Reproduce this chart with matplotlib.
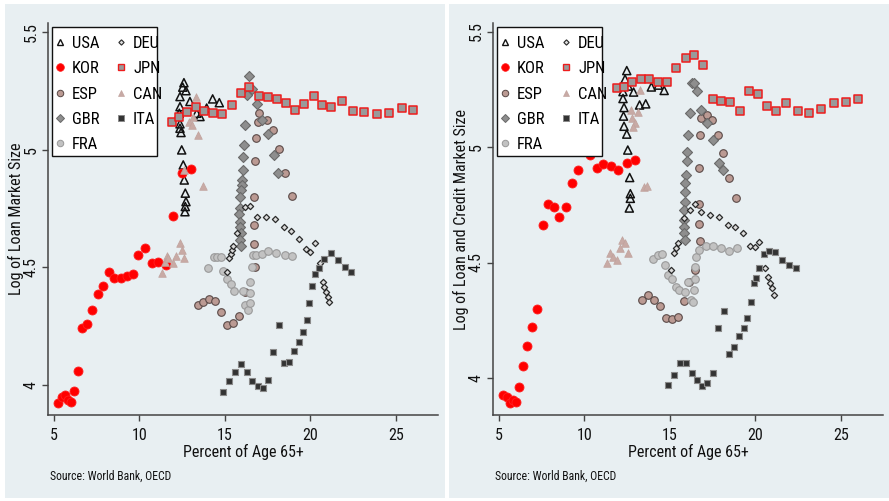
import matplotlib
matplotlib.use("Agg")
import matplotlib.pyplot as plt
from matplotlib import font_manager
from matplotlib.patches import Rectangle
from matplotlib.lines import Line2D

# ---- data: share of population aged 65+ (x) vs. log market size (y) ----
JPN_AGE = [11.88, 12.31, 12.80, 13.29, 13.77, 14.32, 14.84, 15.39, 15.92, 16.42, 16.97, 17.50, 18.02,
           18.55, 19.09, 19.64, 20.19, 20.67, 21.20, 21.82, 22.50, 23.15, 23.87, 24.61, 25.33, 26.01]
JPN_LOAN = [5.120, 5.139, 5.163, 5.182, 5.166, 5.159, 5.152, 5.190, 5.244, 5.267, 5.231, 5.223, 5.216,
            5.201, 5.170, 5.196, 5.231, 5.190, 5.182, 5.209, 5.165, 5.162, 5.152, 5.157, 5.180, 5.171]
JPN_CREDIT = [5.257, 5.258, 5.283, 5.293, 5.293, 5.283, 5.283, 5.343, 5.384, 5.398, 5.355, 5.209, 5.199,
              5.195, 5.156, 5.244, 5.228, 5.177, 5.156, 5.192, 5.156, 5.148, 5.166, 5.192, 5.195, 5.209]

KOR_AGE = [5.25, 5.45, 5.64, 5.84, 5.99, 6.17, 6.42, 6.65, 6.93, 7.22, 7.56, 7.88, 8.22,
           8.53, 8.90, 9.25, 9.60, 9.93, 10.32, 10.71, 11.10, 11.55, 11.98, 12.49, 12.99]
KOR_LOAN = [3.922, 3.950, 3.957, 3.936, 3.929, 3.974, 4.061, 4.241, 4.258, 4.319, 4.387, 4.421, 4.480,
            4.457, 4.454, 4.465, 4.471, 4.553, 4.582, 4.518, 4.522, 4.511, 4.719, 4.903, 4.918]
KOR_CREDIT = [3.926, 3.919, 3.890, 3.905, 3.897, 3.962, 4.052, 4.140, 4.222, 4.297, 4.662, 4.753, 4.742,
              4.696, 4.740, 4.846, 4.900, 5.009, 4.965, 4.909, 4.928, 4.916, 4.902, 4.929, 4.944]

ITA_AGE = [14.87, 15.25, 15.58, 15.92, 16.27, 16.60, 16.91, 17.20, 17.51, 17.82, 18.17, 18.45, 18.73,
           19.05, 19.33, 19.54, 19.77, 19.92, 20.07, 20.25, 20.50, 20.81, 21.18, 21.59, 22.00, 22.36]
ITA_LOAN = [3.968, 4.018, 4.056, 4.089, 4.056, 4.017, 3.996, 3.989, 4.021, 4.142, 4.254, 4.094, 4.099,
            4.145, 4.184, 4.227, 4.277, 4.349, 4.421, 4.471, 4.497, 4.537, 4.562, 4.533, 4.503, 4.481]
ITA_CREDIT = [3.970, 4.013, 4.064, 4.065, 4.020, 3.991, 3.964, 3.977, 4.020, 4.218, 4.290, 4.104, 4.133,
              4.182, 4.218, 4.262, 4.330, 4.410, 4.432, 4.475, 4.537, 4.550, 4.545, 4.511, 4.489, 4.475]

USA_AGE_L = [12.66, 12.68, 12.72, 12.68, 12.62, 12.56, 12.47, 12.43, 12.37, 12.37, 12.33, 12.37, 12.37,
             12.53, 12.60, 12.72, 12.95, 13.35, 13.54, 13.93, 14.28, 14.67]
USA_LOAN = [4.737, 4.759, 4.780, 4.816, 4.872, 4.936, 5.000, 5.074, 5.092, 5.111, 5.156, 5.184, 5.227,
            5.267, 5.286, 5.252, 5.206, 5.156, 5.142, 5.178, 5.217, 5.201]
USA_AGE_C = [12.48, 12.38, 12.56, 12.26, 12.88, 12.26, 12.32, 12.29, 12.32, 12.48, 12.54, 12.65, 12.69,
             12.69, 12.63, 13.23, 13.59, 13.92, 14.33, 14.67]
USA_CREDIT = [5.331, 5.294, 5.264, 5.240, 5.238, 5.210, 5.171, 5.134, 5.090, 5.056, 4.987, 4.868, 4.798,
              4.778, 4.736, 5.182, 5.187, 5.260, 5.268, 5.245]

ESP_AGE_L = [13.44, 13.73, 14.06, 14.42, 14.77, 15.13, 15.45, 15.84, 16.17, 16.75, 16.71, 16.71, 16.71,
             16.75, 16.81, 16.95, 17.01, 17.44, 17.82, 18.18, 18.51, 18.90]
ESP_LOAN = [4.340, 4.352, 4.366, 4.359, 4.309, 4.255, 4.263, 4.294, 4.396, 4.503, 4.600, 4.681, 4.800,
            4.951, 5.050, 5.120, 5.159, 5.129, 5.086, 5.003, 4.900, 4.804]
ESP_AGE_C = [13.38, 13.71, 14.06, 14.40, 14.75, 15.12, 15.46, 15.81, 16.13, 16.48, 16.75, 16.72, 16.68,
             16.70, 16.75, 16.80, 17.17, 17.46, 17.81, 18.14, 18.49, 18.88]
ESP_CREDIT = [4.338, 4.359, 4.336, 4.310, 4.262, 4.254, 4.263, 4.332, 4.417, 4.468, 4.595, 4.667, 4.753,
              4.908, 5.050, 5.124, 5.139, 5.116, 5.054, 4.975, 4.865, 4.781]

GBR_AGE_L = [16.39, 16.56, 16.30, 16.87, 17.18, 16.19, 17.53, 16.11, 17.88, 16.07, 16.04, 18.12, 15.98,
             15.98, 15.94, 15.88, 15.88, 15.84, 15.88, 15.89, 15.92, 15.88, 15.94]
GBR_LOAN = [5.315, 5.258, 5.234, 5.194, 5.128, 5.105, 5.067, 5.021, 4.979, 4.969, 4.915, 4.903, 4.872,
            4.851, 4.830, 4.800, 4.753, 4.728, 4.694, 4.672, 4.647, 4.617, 4.591]
GBR_AGE_C = [16.28, 16.42, 16.58, 16.16, 16.85, 17.17, 16.09, 17.54, 16.01, 17.86, 16.01, 18.09, 15.97,
             15.91, 15.90, 15.88, 15.86, 15.81, 15.84, 15.84, 15.90]
GBR_CREDIT = [5.279, 5.277, 5.242, 5.147, 5.161, 5.106, 5.051, 5.030, 4.980, 4.931, 4.939, 4.900, 4.879,
              4.843, 4.807, 4.763, 4.727, 4.684, 4.655, 4.626, 4.597]

FRA_AGE_L = [14.02, 14.33, 14.56, 14.77, 14.90, 15.10, 15.33, 15.54, 16.05, 16.20, 16.37, 16.46, 16.49,
             16.48, 16.56, 16.65, 16.84, 17.15, 17.53, 18.00, 18.51, 18.93]
FRA_LOAN = [4.497, 4.543, 4.546, 4.543, 4.484, 4.451, 4.429, 4.399, 4.400, 4.338, 4.319, 4.348, 4.390,
            4.440, 4.503, 4.553, 4.553, 4.557, 4.568, 4.563, 4.553, 4.550]
FRA_AGE_C = [14.04, 14.33, 14.55, 14.72, 14.89, 15.12, 15.34, 15.56, 15.88, 16.07, 16.22, 16.37, 16.44,
             16.48, 16.48, 16.54, 16.72, 17.11, 17.54, 18.01, 18.49, 18.92]
FRA_CREDIT = [4.514, 4.532, 4.536, 4.491, 4.446, 4.429, 4.395, 4.381, 4.374, 4.415, 4.338, 4.329, 4.381,
              4.429, 4.481, 4.525, 4.554, 4.571, 4.571, 4.565, 4.550, 4.564]

DEU_AGE_L = [15.13, 15.25, 15.33, 15.39, 15.45, 15.68, 16.17, 16.46, 16.89, 17.40, 17.92, 18.43, 18.86,
             19.31, 19.74, 20.00, 20.26, 20.56, 20.71, 20.81, 20.91, 21.01, 21.10]
DEU_LOAN = [4.480, 4.539, 4.557, 4.574, 4.591, 4.646, 4.756, 4.762, 4.715, 4.713, 4.704, 4.672, 4.655,
            4.619, 4.577, 4.565, 4.602, 4.518, 4.440, 4.418, 4.397, 4.376, 4.354]
DEU_AGE_C = [15.08, 15.22, 15.34, 15.46, 15.84, 16.19, 16.45, 16.85, 17.37, 17.90, 18.40, 18.83, 19.31,
             19.70, 20.00, 20.25, 20.58, 20.73, 20.88, 20.98, 21.11]
DEU_CREDIT = [4.468, 4.543, 4.563, 4.583, 4.693, 4.727, 4.753, 4.719, 4.707, 4.697, 4.664, 4.652, 4.626,
              4.572, 4.569, 4.589, 4.478, 4.439, 4.413, 4.388, 4.361]

CAN_AGE_L = [13.30, 13.15, 12.91, 13.05, 13.44, 13.70, 12.60, 12.37, 12.47, 11.59, 12.13, 12.60, 11.49,
             11.98, 11.30, 11.67]
CAN_LOAN = [5.224, 5.142, 5.120, 5.106, 5.064, 4.847, 4.915, 4.603, 4.574, 4.549, 4.549, 4.539, 4.525,
            4.518, 4.478, 4.540]
CAN_AGE_C = [13.26, 12.72, 13.13, 12.77, 12.98, 12.87, 13.49, 13.65, 12.19, 12.38, 12.09, 12.57, 11.50,
             11.66, 11.90, 11.31]
CAN_CREDIT = [5.247, 5.160, 5.153, 5.124, 5.104, 5.088, 4.828, 4.830, 4.597, 4.583, 4.561, 4.540, 4.540,
              4.523, 4.511, 4.497]

COUNTRIES = ["USA", "KOR", "ESP", "GBR", "FRA", "DEU", "JPN", "CAN", "ITA"]
X_TICKS = [5, 10, 15, 20, 25]
Y_TICKS = [4, 4.5, 5, 5.5]
Y_TICK_LABELS = ["4", "4.5", "5", "5.5"]

LOAN_SERIES = {
    "USA": (USA_AGE_L, USA_LOAN), "KOR": (KOR_AGE, KOR_LOAN), "ESP": (ESP_AGE_L, ESP_LOAN),
    "GBR": (GBR_AGE_L, GBR_LOAN), "FRA": (FRA_AGE_L, FRA_LOAN), "DEU": (DEU_AGE_L, DEU_LOAN),
    "JPN": (JPN_AGE, JPN_LOAN), "CAN": (CAN_AGE_L, CAN_LOAN), "ITA": (ITA_AGE, ITA_LOAN),
}
CREDIT_SERIES = {
    "USA": (USA_AGE_C, USA_CREDIT), "KOR": (KOR_AGE, KOR_CREDIT), "ESP": (ESP_AGE_C, ESP_CREDIT),
    "GBR": (GBR_AGE_C, GBR_CREDIT), "FRA": (FRA_AGE_C, FRA_CREDIT), "DEU": (DEU_AGE_C, DEU_CREDIT),
    "JPN": (JPN_AGE, JPN_CREDIT), "CAN": (CAN_AGE_C, CAN_CREDIT), "ITA": (ITA_AGE, ITA_CREDIT),
}

# ---- marker styles ----
STYLE = {
    "USA": dict(marker="^", s=34, facecolor="none", edgecolor="#111111", linewidth=1.1),
    "KOR": dict(marker="o", s=42, facecolor="#ff0000", edgecolor="#ff2020", linewidth=0.6),
    "ESP": dict(marker="o", s=30, facecolor="#bb9a93", edgecolor="#5a4a48", linewidth=0.8),
    "GBR": dict(marker="D", s=26, facecolor="#8e8e8e", edgecolor="#6a6a6a", linewidth=0.8),
    "FRA": dict(marker="o", s=30, facecolor="#c2c2c2", edgecolor="#9a9a9a", linewidth=0.8),
    "DEU": dict(marker="D", s=10, facecolor="#dcdcdc", edgecolor="#2a2a2a", linewidth=0.9),
    "JPN": dict(marker="s", s=30, facecolor="#9a9a9a", edgecolor="#ee1c1c", linewidth=1.1),
    "CAN": dict(marker="^", s=30, facecolor="#c8aaa5", edgecolor="#c0a29d", linewidth=0.5),
    "ITA": dict(marker="s", s=24, facecolor="#333333", edgecolor="#8a8a8a", linewidth=0.8),
}

available = {f.name for f in font_manager.fontManager.ttflist}
FONT = next((f for f in ["Roboto Condensed", "Archivo Narrow", "PT Sans Narrow", "Liberation Sans"]
             if f in available), "DejaVu Sans")
plt.rcParams["font.family"] = [FONT, "DejaVu Sans"]

W, H = 889, 501
fig = plt.figure(figsize=(W / 100, H / 100), dpi=100)
fig.patch.set_facecolor("white")

BG = "#e8eff2"
AX_COLOR = "#444444"
TXT = "#111111"


def px_rect(x0, y0, x1, y1):
    return [x0 / W, 1 - y1 / H, (x1 - x0) / W, (y1 - y0) / H]


# panel backgrounds, drawn beneath the axes
for x0, x1 in [(5, 445), (449, 889)]:
    r = Rectangle((x0 / W, 1 - 498 / H), (x1 - x0) / W, (498 - 4) / H,
                  transform=fig.transFigure, facecolor=BG, edgecolor="none", zorder=-10)
    fig.patches.append(r)

panels = [
    dict(rect=px_rect(48, 23, 438, 415), data=LOAN_SERIES, ylim=(3.872, 5.540),
         xlim=(4.65, 27.46), ylabel="Log of Loan Market Size", dx=0),
    dict(rect=px_rect(493, 23, 883, 415), data=CREDIT_SERIES, ylim=(3.840, 5.537),
         xlim=(4.65, 27.48), ylabel="Log of Loan and Credit Market Size", dx=445),
]

for p in panels:
    dx = p["dx"]
    ax = fig.add_axes(p["rect"])
    ax.set_zorder(1)
    ax.set_facecolor("none")
    for c in COUNTRIES:
        xs, ys = p["data"][c]
        ax.scatter(xs, ys, label=c, zorder=3, **STYLE[c])
    ax.set_xlim(*p["xlim"])
    ax.set_ylim(*p["ylim"])
    ax.set_xticks(X_TICKS)
    ax.set_yticks(Y_TICKS)
    ax.set_yticklabels(Y_TICK_LABELS)
    for s in ["top", "right"]:
        ax.spines[s].set_visible(False)
    for s in ["left", "bottom"]:
        ax.spines[s].set_color(AX_COLOR)
        ax.spines[s].set_linewidth(1.1)
    ax.tick_params(axis="both", direction="out", length=4, width=1.0, color=AX_COLOR,
                   labelsize=11.5, labelcolor=TXT)
    ax.tick_params(axis="x", pad=5)
    ax.tick_params(axis="y", labelrotation=90, pad=2.5)
    for lab in ax.get_yticklabels():
        lab.set_va("center")
    ax.set_ylabel(p["ylabel"], fontsize=11.5, color=TXT)
    ax.yaxis.set_label_coords(-0.062, 0.5)
    ax.set_xlabel("Percent of Age 65+", fontsize=11.5, color=TXT)
    ax.xaxis.set_label_coords(0.5, -0.094)
    ax.xaxis.label.set_va("center")

    # legend box
    frame = Rectangle(((52 + dx) / W, 1 - 156 / H), 105 / W, (156 - 27) / H,
                      transform=fig.transFigure, facecolor="white", edgecolor=TXT,
                      linewidth=1.0, zorder=4)
    ax.add_artist(frame)
    frame.set_clip_on(False)

    handles = [Line2D([], [], linestyle="none", marker=STYLE[c]["marker"],
                      markersize=(STYLE[c]["s"] ** 0.5) * 0.85,
                      markerfacecolor=STYLE[c]["facecolor"],
                      markeredgecolor=STYLE[c]["edgecolor"],
                      markeredgewidth=STYLE[c]["linewidth"] * 0.9) for c in COUNTRIES]
    leg = ax.legend(handles, COUNTRIES, loc="upper left",
                    bbox_to_anchor=((57 + dx) / W, 1 - 36 / H), bbox_transform=fig.transFigure,
                    borderaxespad=0, borderpad=0, ncol=2, fontsize=12, frameon=False,
                    labelspacing=0.62, handlelength=0.4, handletextpad=0.5, columnspacing=1.1)
    leg.set_zorder(5)

    fig.text((50 + dx) / W, 1 - 476 / H, "Source: World Bank, OECD", fontsize=8.5,
             color=TXT, ha="left", va="center")

fig.savefig("out.png", dpi=100, facecolor="white")
